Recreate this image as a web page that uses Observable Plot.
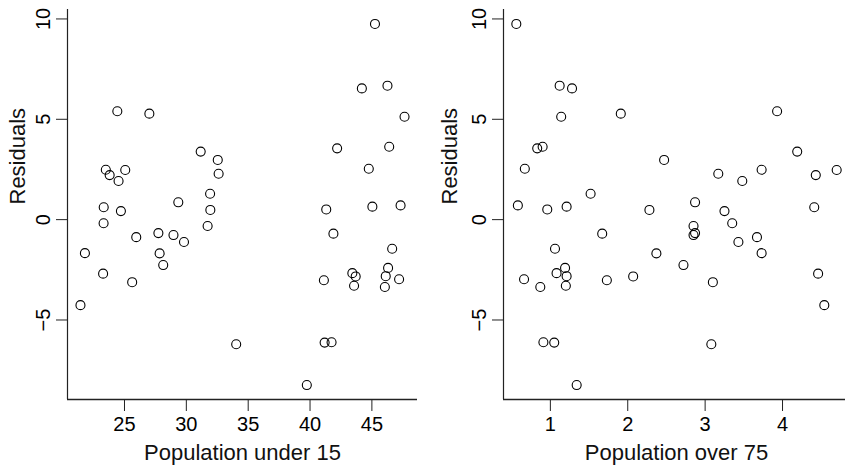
<!DOCTYPE html>
<html>
<head>
<meta charset="utf-8">
<script src="https://cdn.jsdelivr.net/npm/d3@7"></script>
<script src="https://cdn.jsdelivr.net/npm/@observablehq/plot@0.6"></script>
<style>
  html, body { margin: 0; padding: 0; background: #fff; overflow: hidden; }
  #wrap { display: flex; width: 845px; height: 466px; overflow: hidden; }
  #wrap svg { flex: none; font-family: "Liberation Sans", Arial, sans-serif; }
</style>
</head>
<body>
<div id="wrap"></div>
<script>
// LifeCycleSavings: residuals of lm(sr ~ pop15 + pop75 + dpi + ddpi)
const countries = ["Australia","Austria","Belgium","Bolivia","Brazil","Canada","Chile","China","Colombia","Costa Rica",
  "Denmark","Ecuador","Finland","France","Germany","Greece","Guatamala","Honduras","Iceland","India",
  "Ireland","Italy","Japan","Korea","Luxembourg","Malta","Norway","Netherlands","New Zealand","Nicaragua",
  "Panama","Paraguay","Peru","Philippines","Portugal","South Africa","South Rhodesia","Spain","Sweden","Switzerland",
  "Turkey","Tunisia","United Kingdom","United States","Venezuela","Zambia","Jamaica","Uruguay","Libya","Malaysia"];
const pop15 = [29.35,23.32,23.80,41.89,42.19,31.72,39.74,44.75,46.64,47.64,
  24.42,46.31,27.84,25.06,23.31,25.62,46.05,47.32,34.03,41.31,
  31.16,24.52,27.01,41.74,21.80,32.54,25.95,24.71,32.61,45.04,
  43.56,41.18,44.19,46.26,28.96,31.94,31.92,27.74,21.44,23.49,
  43.42,46.12,23.27,29.81,46.40,45.25,41.12,28.13,43.69,47.20];
const pop75 = [2.87,4.41,4.43,1.67,0.83,2.85,1.34,0.67,1.06,1.14,
  3.93,1.19,2.37,4.70,3.35,3.10,0.87,0.58,3.08,0.96,
  4.19,3.48,1.91,0.91,3.73,2.47,3.67,3.25,3.17,1.21,
  1.20,1.05,1.28,1.12,2.85,2.28,1.52,2.87,4.54,3.73,
  1.08,1.21,4.46,3.43,0.90,0.56,1.73,2.72,2.07,0.66];
const residuals = [0.8636,0.6164,2.2190,-0.6983,3.5528,-0.3169,-8.2422,2.5360,-1.4517,5.1251,
  5.4002,-2.4056,-1.6811,2.4755,-0.1807,-3.1162,-3.3553,0.7100,-6.2106,0.5087,
  3.3911,1.9268,5.2815,-6.1070,-1.6709,2.9749,-0.8718,0.4255,2.2856,0.6464,
  -3.2941,-6.1259,6.5394,6.6750,-0.7684,0.4832,1.2914,-0.6712,-4.2603,2.4868,
  -2.6657,-2.8179,-2.6924,-1.1116,3.6325,9.7509,-3.0185,-2.2638,-2.8295,-2.9709];

const yTicks = [-5, 0, 5, 10];
const xTicks15 = [25, 30, 35, 40, 45];
const xTicks75 = [1, 2, 3, 4];
const yLabel = "Residuals";
const xLabel15 = "Population under 15";
const xLabel75 = "Population over 75";

const rows = countries.map((c, i) => ({country: c, pop15: pop15[i], pop75: pop75[i], resid: residuals[i]}));

// R-style 4% range extension
function ext(vals) {
  const [a, b] = d3.extent(vals);
  const d = (b - a) * 0.04;
  return [a - d, b + d];
}
const yDom = ext(residuals);
const fmt = d => String(d).replace("-", "\u2212");

function panel(xField, xTicks, xLabel, width, marginLeft, marginRight, yDx) {
  const xDom = ext(rows.map(r => r[xField]));
  return Plot.plot({
    width, height: 466,
    marginLeft, marginRight, marginTop: 9, marginBottom: 67,
    x: {domain: xDom},
    y: {domain: yDom},
    style: {fontFamily: "Liberation Sans, Arial, sans-serif", color: "#000", background: "transparent", overflow: "visible"},
    marks: [
      Plot.ruleY([yDom[0]], {stroke: "#222", strokeWidth: 1.4}),
      Plot.ruleX([xDom[0]], {stroke: "#222", strokeWidth: 1.2}),
      Plot.axisX({ticks: xTicks, tickFormat: fmt, tickSize: 12, tickPadding: 5, fontSize: 20, label: null, stroke: "#222"}),
      Plot.axisY({ticks: yTicks, tickFormat: fmt, tickSize: 11, tickPadding: 7, tickRotate: -90, fontSize: 20, label: null, stroke: "#222"}),
      Plot.text([xLabel], {text: d => d, frameAnchor: "bottom", dy: 53, fontSize: 22, lineAnchor: "middle", fill: "#111"}),
      Plot.text([yLabel], {text: d => d, frameAnchor: "left", dx: yDx, rotate: -90, fontSize: 22, lineAnchor: "middle", fill: "#111"}),
      Plot.dot(rows, {x: xField, y: "resid", r: 4.5, stroke: "#000", strokeWidth: 1.1, fill: "none"})
    ]
  });
}

const wrap = document.getElementById("wrap");
wrap.appendChild(panel("pop15", xTicks15, xLabel15, 422, 67, 5, -50));
wrap.appendChild(panel("pop75", xTicks75, xLabel75, 427, 81, 0, -54));
</script>
</body>
</html>
